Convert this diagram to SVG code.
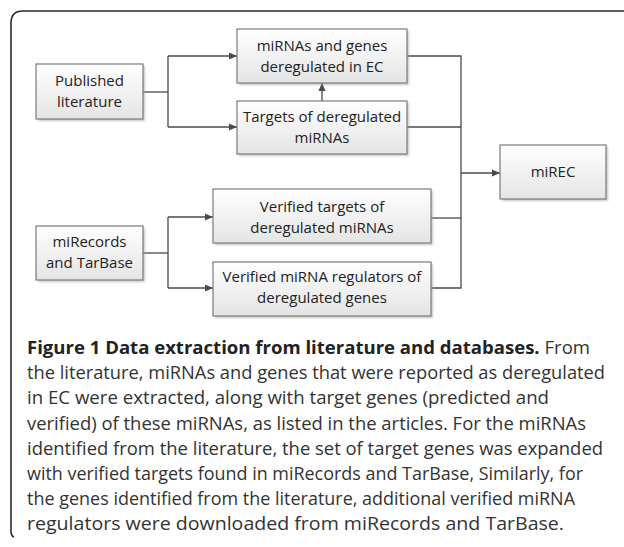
<svg xmlns="http://www.w3.org/2000/svg" width="624" height="547" viewBox="0 0 624 547">
  <defs>
    <linearGradient id="boxFill" x1="0" y1="0" x2="0" y2="1">
      <stop offset="0" stop-color="#ffffff"/>
      <stop offset="1" stop-color="#e4e4e4"/>
    </linearGradient>
    <filter id="soft" x="-10%" y="-10%" width="130%" height="140%">
      <feGaussianBlur stdDeviation="1"/>
    </filter>
    <marker id="arrow" viewBox="0 0 10 10" refX="10" refY="5" markerWidth="8" markerHeight="8" markerUnits="userSpaceOnUse" orient="auto">
      <path d="M0,0.5 L10,5 L0,9.5 Z" fill="#4a4a4a"/>
    </marker>
    <style>
      .box { fill: url(#boxFill); stroke: #7a7a7a; stroke-width: 1.2; }
      .shadow { fill: #9a9a9a; opacity: 0.55; filter: url(#soft); }
      .label { font-family: "Open Sans", "Noto Sans", "Liberation Sans", sans-serif; font-size: 15px; fill: #222; text-anchor: middle; }
      .wire { fill: none; stroke: #4a4a4a; stroke-width: 1.3; }
      .cap { font-family: "Open Sans", "Noto Sans", "Liberation Sans", sans-serif; font-size: 18px; fill: #333; }
      .capb { font-weight: bold; fill: #222; }
      .frame { fill: none; stroke: #2a2a2a; stroke-width: 1.6; }
    </style>
  </defs>

  <rect width="624" height="547" fill="#ffffff"/>

  <!-- figure frame (open on the right and bottom) -->
  <path class="frame" d="M14,537 Q11,536 11,531 L11,23 Q11,11 23,11 L624,11"/>

  <!-- connectors -->
  <g id="connectors">
    <path class="wire" d="M143,92 H168"/>
    <path class="wire" d="M168,56 V127"/>
    <path class="wire" d="M168,56 H237" marker-end="url(#arrow)"/>
    <path class="wire" d="M168,127 H237" marker-end="url(#arrow)"/>
    <path class="wire" d="M322,101 V83" marker-end="url(#arrow)"/>

    <path class="wire" d="M143,253 H168"/>
    <path class="wire" d="M168,217 V288"/>
    <path class="wire" d="M168,217 H213" marker-end="url(#arrow)"/>
    <path class="wire" d="M168,288 H213" marker-end="url(#arrow)"/>

    <path class="wire" d="M407,56 H461 V288 H431"/>
    <path class="wire" d="M407,127 H461"/>
    <path class="wire" d="M431,218 H461"/>
    <path class="wire" d="M461,173 H500" marker-end="url(#arrow)"/>
  </g>

  <!-- nodes -->
  <g id="published-literature">
    <rect class="shadow" x="38" y="66" width="107" height="55"/>
    <rect class="box" x="36" y="64" width="107" height="55"/>
    <text class="label" x="89.5" y="86">Published</text>
    <text class="label" x="89.5" y="107">literature</text>
  </g>

  <g id="deregulated-in-ec">
    <rect class="shadow" x="239" y="31" width="170" height="54"/>
    <rect class="box" x="237" y="29" width="170" height="54"/>
    <text class="label" x="322" y="51">miRNAs and genes</text>
    <text class="label" x="322" y="72">deregulated in EC</text>
  </g>

  <g id="targets-of-deregulated">
    <rect class="shadow" x="239" y="103" width="170" height="53"/>
    <rect class="box" x="237" y="101" width="170" height="53"/>
    <text class="label" x="322" y="122">Targets of deregulated</text>
    <text class="label" x="322" y="143">miRNAs</text>
  </g>

  <g id="mirec">
    <rect class="shadow" x="502" y="147" width="106" height="54"/>
    <rect class="box" x="500" y="145" width="106" height="54"/>
    <text class="label" x="553" y="177">miREC</text>
  </g>

  <g id="mirecords-tarbase">
    <rect class="shadow" x="38" y="228" width="107" height="54"/>
    <rect class="box" x="36" y="226" width="107" height="54"/>
    <text class="label" x="89.5" y="247">miRecords</text>
    <text class="label" x="89.5" y="268">and TarBase</text>
  </g>

  <g id="verified-targets">
    <rect class="shadow" x="215" y="191" width="218" height="54"/>
    <rect class="box" x="213" y="189" width="218" height="54"/>
    <text class="label" x="322" y="212">Verified targets of</text>
    <text class="label" x="322" y="233">deregulated miRNAs</text>
  </g>

  <g id="verified-regulators">
    <rect class="shadow" x="215" y="264" width="218" height="54"/>
    <rect class="box" x="213" y="262" width="218" height="54"/>
    <text class="label" x="322" y="282">Verified miRNA regulators of</text>
    <text class="label" x="322" y="303">deregulated genes</text>
  </g>

  <!-- caption -->
  <g id="caption">
    <text class="cap" x="27" y="354" textLength="563" lengthAdjust="spacingAndGlyphs"><tspan class="capb">Figure 1 Data extraction from literature and databases.</tspan> From</text>
    <text class="cap" x="27" y="379.2" textLength="578" lengthAdjust="spacingAndGlyphs">the literature, miRNAs and genes that were reported as deregulated</text>
    <text class="cap" x="27" y="404.4" textLength="522" lengthAdjust="spacingAndGlyphs">in EC were extracted, along with target genes (predicted and</text>
    <text class="cap" x="27" y="429.6" textLength="559" lengthAdjust="spacingAndGlyphs">verified) of these miRNAs, as listed in the articles. For the miRNAs</text>
    <text class="cap" x="27" y="454.8" textLength="576" lengthAdjust="spacingAndGlyphs">identified from the literature, the set of target genes was expanded</text>
    <text class="cap" x="27" y="480" textLength="556" lengthAdjust="spacingAndGlyphs">with verified targets found in miRecords and TarBase, Similarly, for</text>
    <text class="cap" x="27" y="505.2" textLength="548" lengthAdjust="spacingAndGlyphs">the genes identified from the literature, additional verified miRNA</text>
    <text class="cap" x="27" y="530.4" textLength="537" lengthAdjust="spacingAndGlyphs">regulators were downloaded from miRecords and TarBase.</text>
  </g>
</svg>
